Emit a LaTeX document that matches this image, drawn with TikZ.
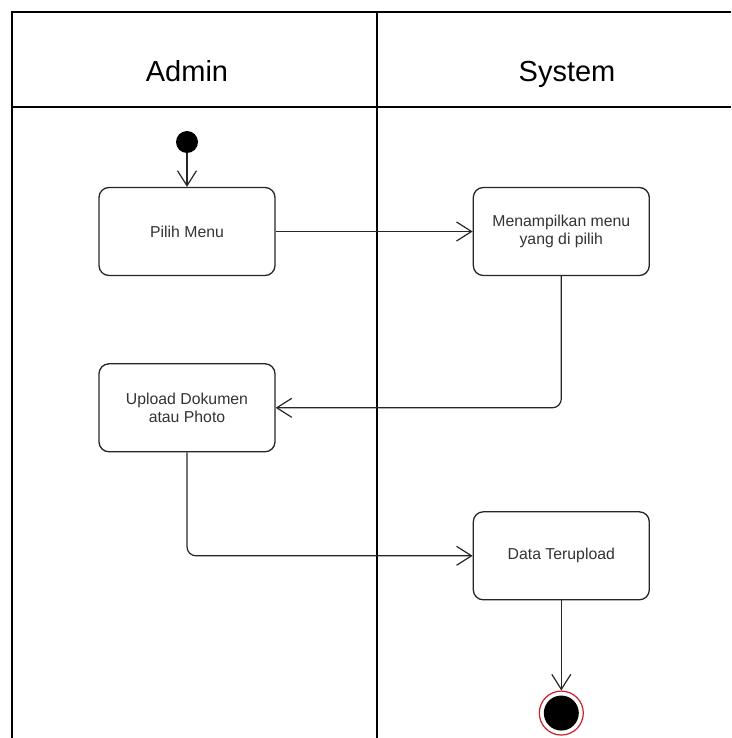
\documentclass[tikz,border=0pt]{standalone}
\usepackage{fontspec}
\setmainfont{Liberation Sans}
\usetikzlibrary{arrows.meta, positioning}

\begin{document}
\begin{tikzpicture}[
    x=1pt, y=-1pt,
    lane/.style={line width=1.8pt},
    block/.style={rectangle, rounded corners=10pt, draw=black!85, line width=1.3pt, fill=white, minimum width=176pt, minimum height=88pt, align=center, text=black!80, font=\fontsize{15.8}{18.6}\selectfont},
    flow/.style={-{Straight Barb[length=15pt, width=19pt, line width=1.2pt]}, line width=1.2pt, rounded corners=9pt, black!85}
]
\useasboundingbox (0,0) rectangle (731,738);

% Swimlanes
\draw[lane] (731,12) -| (12,738);
\draw[lane] (12,107) -- (731,107);
\draw[lane] (377,12) -- (377,738);
\node[anchor=base, font=\fontsize{29}{34}\selectfont] (admin) at (187,82) {Admin};
\node[anchor=base, font=\fontsize{29}{34}\selectfont] (system) at (567,82) {System};

% Activities
\node[circle, fill=black, minimum size=22pt, inner sep=0pt] (start) at (187,142) {};
\node[block] (pilih) at (187,231.5) {Pilih Menu};
\node[block, right=197pt of pilih] (tampil) {Menampilkan menu \\ yang di pilih};
\node[block, below=87pt of pilih] (upload) {Upload Dokumen \\ atau Photo};
\node[block, below=235pt of tampil] (data) {Data Terupload};

% End state
\node[circle, draw={rgb,255:red,205;green,30;blue,45}, line width=1.2pt, fill=white, minimum size=44pt, inner sep=0pt, below=90pt of data] (stop) {};
\node[circle, fill=black, minimum size=35pt, inner sep=0pt] (stopdot) at (stop) {};

% Connections
\draw[flow] (start) -- (pilih);
\draw[flow] (pilih) -- (tampil);
\draw[flow] (tampil.south) |- (upload.east);
\draw[flow] (upload.south) |- (data.west);
\draw[flow] (data) -- (stop);

\end{tikzpicture}
\end{document}
